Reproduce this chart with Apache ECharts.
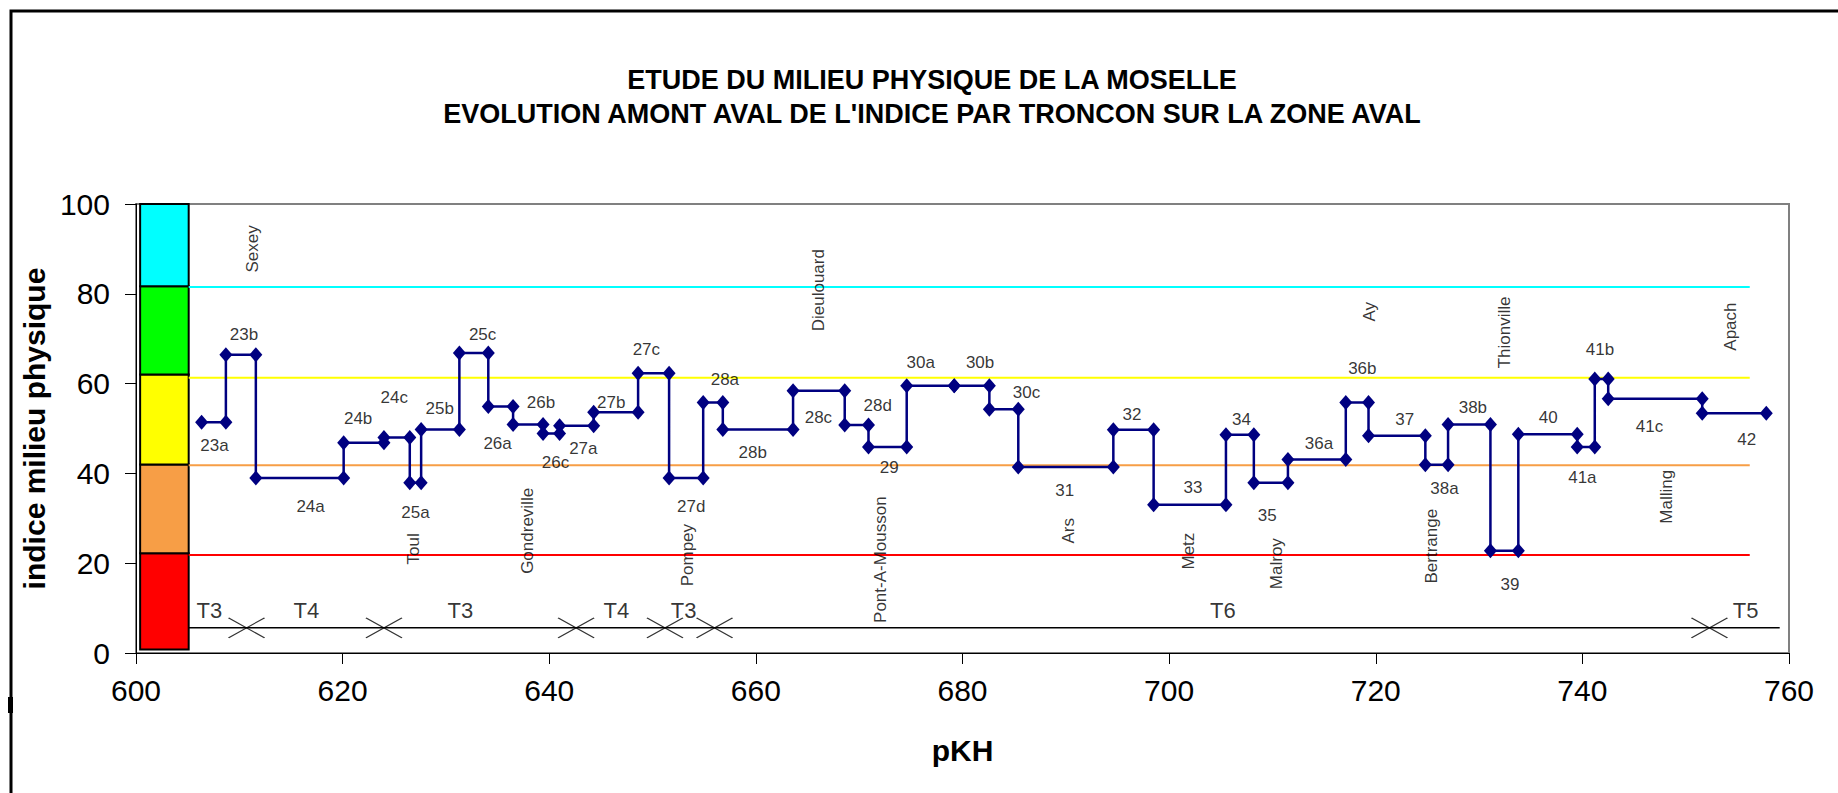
<!DOCTYPE html>
<html><head><meta charset="utf-8">
<script src="https://cdn.jsdelivr.net/npm/echarts@6/dist/echarts.min.js"></script>
<style>html,body{margin:0;padding:0;background:#fff}#c{width:1838px;height:793px}</style>
</head><body><div id="c"></div>
<script>
// ---------- DATA ----------
const titleLines = ['ETUDE DU MILIEU PHYSIQUE DE LA MOSELLE', "EVOLUTION AMONT AVAL DE L'INDICE PAR TRONCON SUR LA ZONE AVAL"];
const xTitle = 'pKH';
const yTitle = 'indice milieu physique';

const segNames = ['23a','23b','24a','24b','24c','25a','25b','25c','26a','26b','26c','27a','27b','27c','27d','28a','28b','28c','28d','29','30a','30b','30c','31','32','33','34','35','36a','36b','37','38a','38b','39','40','41a','41b','41c','42'];
// pKH limits of the successive sections (n+1 values)
const segBounds = [606.35,608.7,611.6,620.1,624.0,626.5,627.6,631.3,634.1,636.5,639.4,641.0,644.3,648.6,651.6,654.9,656.8,663.6,668.6,670.9,674.6,679.2,682.6,685.4,694.6,698.5,705.5,708.2,711.5,717.1,719.3,724.8,727.0,731.1,733.8,739.5,741.2,742.5,751.6,757.8];
// index value of each section
const segValues = [51.4,66.4,39.0,46.8,48.0,37.9,49.8,66.8,54.9,50.9,48.9,50.6,53.6,62.3,39.0,55.8,49.8,58.4,50.8,45.9,59.5,59.5,54.3,41.4,49.7,33.0,48.6,37.9,43.1,55.8,48.4,41.9,50.9,22.8,48.7,45.9,61.0,56.6,53.4];
// where each section name is written [pKH, indice]
const segLabelPos = [[607.6,46.3],[610.45,71.0],[616.9,32.6],[621.5,52.3],[625.0,56.9],[627.05,31.2],[629.4,54.5],[633.55,71.0],[635.0,46.7],[639.2,55.7],[640.6,42.5],[643.3,45.5],[646.0,55.7],[649.4,67.7],[653.75,32.7],[657.0,61.0],[659.7,44.6],[666.05,52.5],[671.8,55.2],[672.9,41.4],[675.95,64.7],[681.7,64.7],[686.2,58.0],[689.9,36.2],[696.4,53.2],[702.3,36.9],[707.0,51.9],[709.5,30.7],[714.5,46.7],[718.7,63.3],[722.8,51.9],[726.65,36.7],[729.4,54.7],[733.0,15.2],[736.7,52.5],[740.0,39.1],[741.7,67.7],[746.5,50.4],[755.9,47.6]];

const towns = ['Sexey','Toul','Gondreville','Pompey','Dieulouard','Pont-A-Mousson','Ars','Metz','Malroy','Ay','Bertrange','Thionville','Malling','Apach'];
const townPos = [[611.25,90.0],[626.9,23.2],[637.85,27.2],[653.4,21.8],[666.05,80.8],[672.05,20.8],[690.3,27.2],[701.9,22.7],[710.4,19.9],[719.4,76.0],[725.4,23.8],[732.5,71.4],[748.1,34.8],[754.3,72.7]];

// quality classes
const classBounds = [0.8, 22.2, 42.0, 62.0, 81.7, 100];
const classColors = ['#FF0000','#F79E46','#FFFF00','#00FF00','#00FFFF'];
const classBarX = [600.4, 605.1];
const classLines = [21.8, 41.8, 61.3, 81.5];
const classLineColors = ['#FF0000','#F79E46','#FFFF00','#00FFFF'];
const classLineX = [605.1, 756.2];

// troncons
const troncons = ['T3','T4','T3','T4','T3','T6','T5'];
const tronconLabelPos = [[607.1,9.5],[616.5,9.5],[631.4,9.5],[646.5,9.5],[653.0,9.5],[705.2,9.5],[755.8,9.5]];
const tronconLimits = [610.7,624.0,642.6,651.2,656.0,752.3];
const tronconLineY = 5.6;
const tronconLineX = [605.1, 759.1];

const xTicks = {min:600, max:760, interval:20};
const yTicks = {min:0, max:100, interval:20};

// ---------- CHART ----------
const FONT = '"Liberation Sans", Arial, sans-serif';
const chart = echarts.init(document.getElementById('c'), null, {renderer:'svg'});

const stepData = [];
segValues.forEach((v,i)=>{ stepData.push([segBounds[i], v]); stepData.push([segBounds[i+1], v]); });

const bands = classColors.map((c,i)=>[classBarX[0], classBarX[1], classBounds[i], classBounds[i+1]]);

const series = [];
series.push({
  type:'custom', z:2, silent:true,
  encode:{x:[0,1], y:[2,3]},
  data: bands,
  renderItem:(params, api)=>{
    const a = api.coord([api.value(0), api.value(3)]);
    const b = api.coord([api.value(1), api.value(2)]);
    return {type:'rect', shape:{x:a[0], y:a[1], width:b[0]-a[0], height:b[1]-a[1]},
      style:{fill:classColors[params.dataIndex], stroke:'#000', lineWidth:2}};
  }
});
classLines.forEach((v,i)=>{
  series.push({type:'line', z:3, silent:true, symbol:'none', animation:false,
    data:[[classLineX[0], v],[classLineX[1], v]],
    lineStyle:{color:classLineColors[i], width:2}});
});
series.push({type:'line', z:3, silent:true, symbol:'none',
  data:[[tronconLineX[0], tronconLineY],[tronconLineX[1], tronconLineY]],
  lineStyle:{color:'#000', width:1.5}});
series.push({type:'scatter', z:4, silent:true,
  symbol:'path://M0,0L36,20M0,20L36,0', symbolSize:[36,20],
  itemStyle:{color:'rgba(0,0,0,0)', borderColor:'#000', borderWidth:1.2},
  data: tronconLimits.map(x=>[x, tronconLineY])});
series.push({type:'scatter', z:4, silent:true, symbolSize:1,
  itemStyle:{color:'rgba(0,0,0,0)'},
  label:{show:true, position:'inside', formatter:'{b}', color:'#000', fontSize:22, fontFamily:FONT},
  data: troncons.map((t,i)=>({name:t, value:tronconLabelPos[i]}))});
series.push({type:'line', z:6, silent:true,
  data: stepData, symbol:'diamond', symbolSize:[13,15], showAllSymbol:true,
  lineStyle:{color:'#000080', width:2.5}, itemStyle:{color:'#000080'}});
series.push({type:'scatter', z:7, silent:true, symbolSize:1,
  itemStyle:{color:'rgba(0,0,0,0)'},
  label:{show:true, position:'inside', formatter:'{b}', color:'#000', fontSize:17, fontFamily:FONT},
  data: segNames.map((n,i)=>({name:n, value:segLabelPos[i]}))});
series.push({type:'scatter', z:7, silent:true, symbolSize:1,
  itemStyle:{color:'rgba(0,0,0,0)'},
  label:{show:true, position:'inside', rotate:90, formatter:'{b}', color:'#000', fontSize:17, fontFamily:FONT},
  data: towns.map((n,i)=>({name:n, value:townPos[i]}))});

chart.setOption({
  animation:false,
  backgroundColor:'#fff',
  textStyle:{fontFamily:FONT},
  grid:{left:136, right:49, top:204, bottom:140, show:true, borderColor:'#808080', borderWidth:2, backgroundColor:'#fff'},
  xAxis:{type:'value', min:xTicks.min, max:xTicks.max, interval:xTicks.interval,
    axisLine:{show:true, onZero:false, lineStyle:{color:'#000', width:1}},
    axisTick:{show:true, length:11, lineStyle:{color:'#000'}},
    axisLabel:{fontSize:30, color:'#000', margin:22, fontFamily:FONT},
    splitLine:{show:false},
    name:xTitle, nameLocation:'middle', nameGap:82,
    nameTextStyle:{fontSize:30, fontWeight:'bold', color:'#000', fontFamily:FONT}},
  yAxis:{type:'value', min:yTicks.min, max:yTicks.max, interval:yTicks.interval,
    axisLine:{show:true, onZero:false, lineStyle:{color:'#000', width:1}},
    axisTick:{show:true, length:11, lineStyle:{color:'#000'}},
    axisLabel:{fontSize:30, color:'#000', margin:26, fontFamily:FONT},
    splitLine:{show:false},
    name:yTitle, nameLocation:'middle', nameGap:82,
    nameTextStyle:{fontSize:30, fontWeight:'bold', color:'#000', fontFamily:FONT}},
  graphic:[
    {type:'rect', silent:true, z:-1, shape:{x:11, y:11, width:1900, height:900}, style:{fill:'none', stroke:'#000', lineWidth:3}},
    {type:'rect', silent:true, shape:{x:8, y:697, width:5, height:16}, style:{fill:'#000'}},
    {type:'text', silent:true, x:932, y:63, style:{text:titleLines.join('\n'), fill:'#000', font:'bold 27px ' + FONT, align:'center', verticalAlign:'top', lineHeight:34}}
  ],
  series: series
});
</script></body></html>
